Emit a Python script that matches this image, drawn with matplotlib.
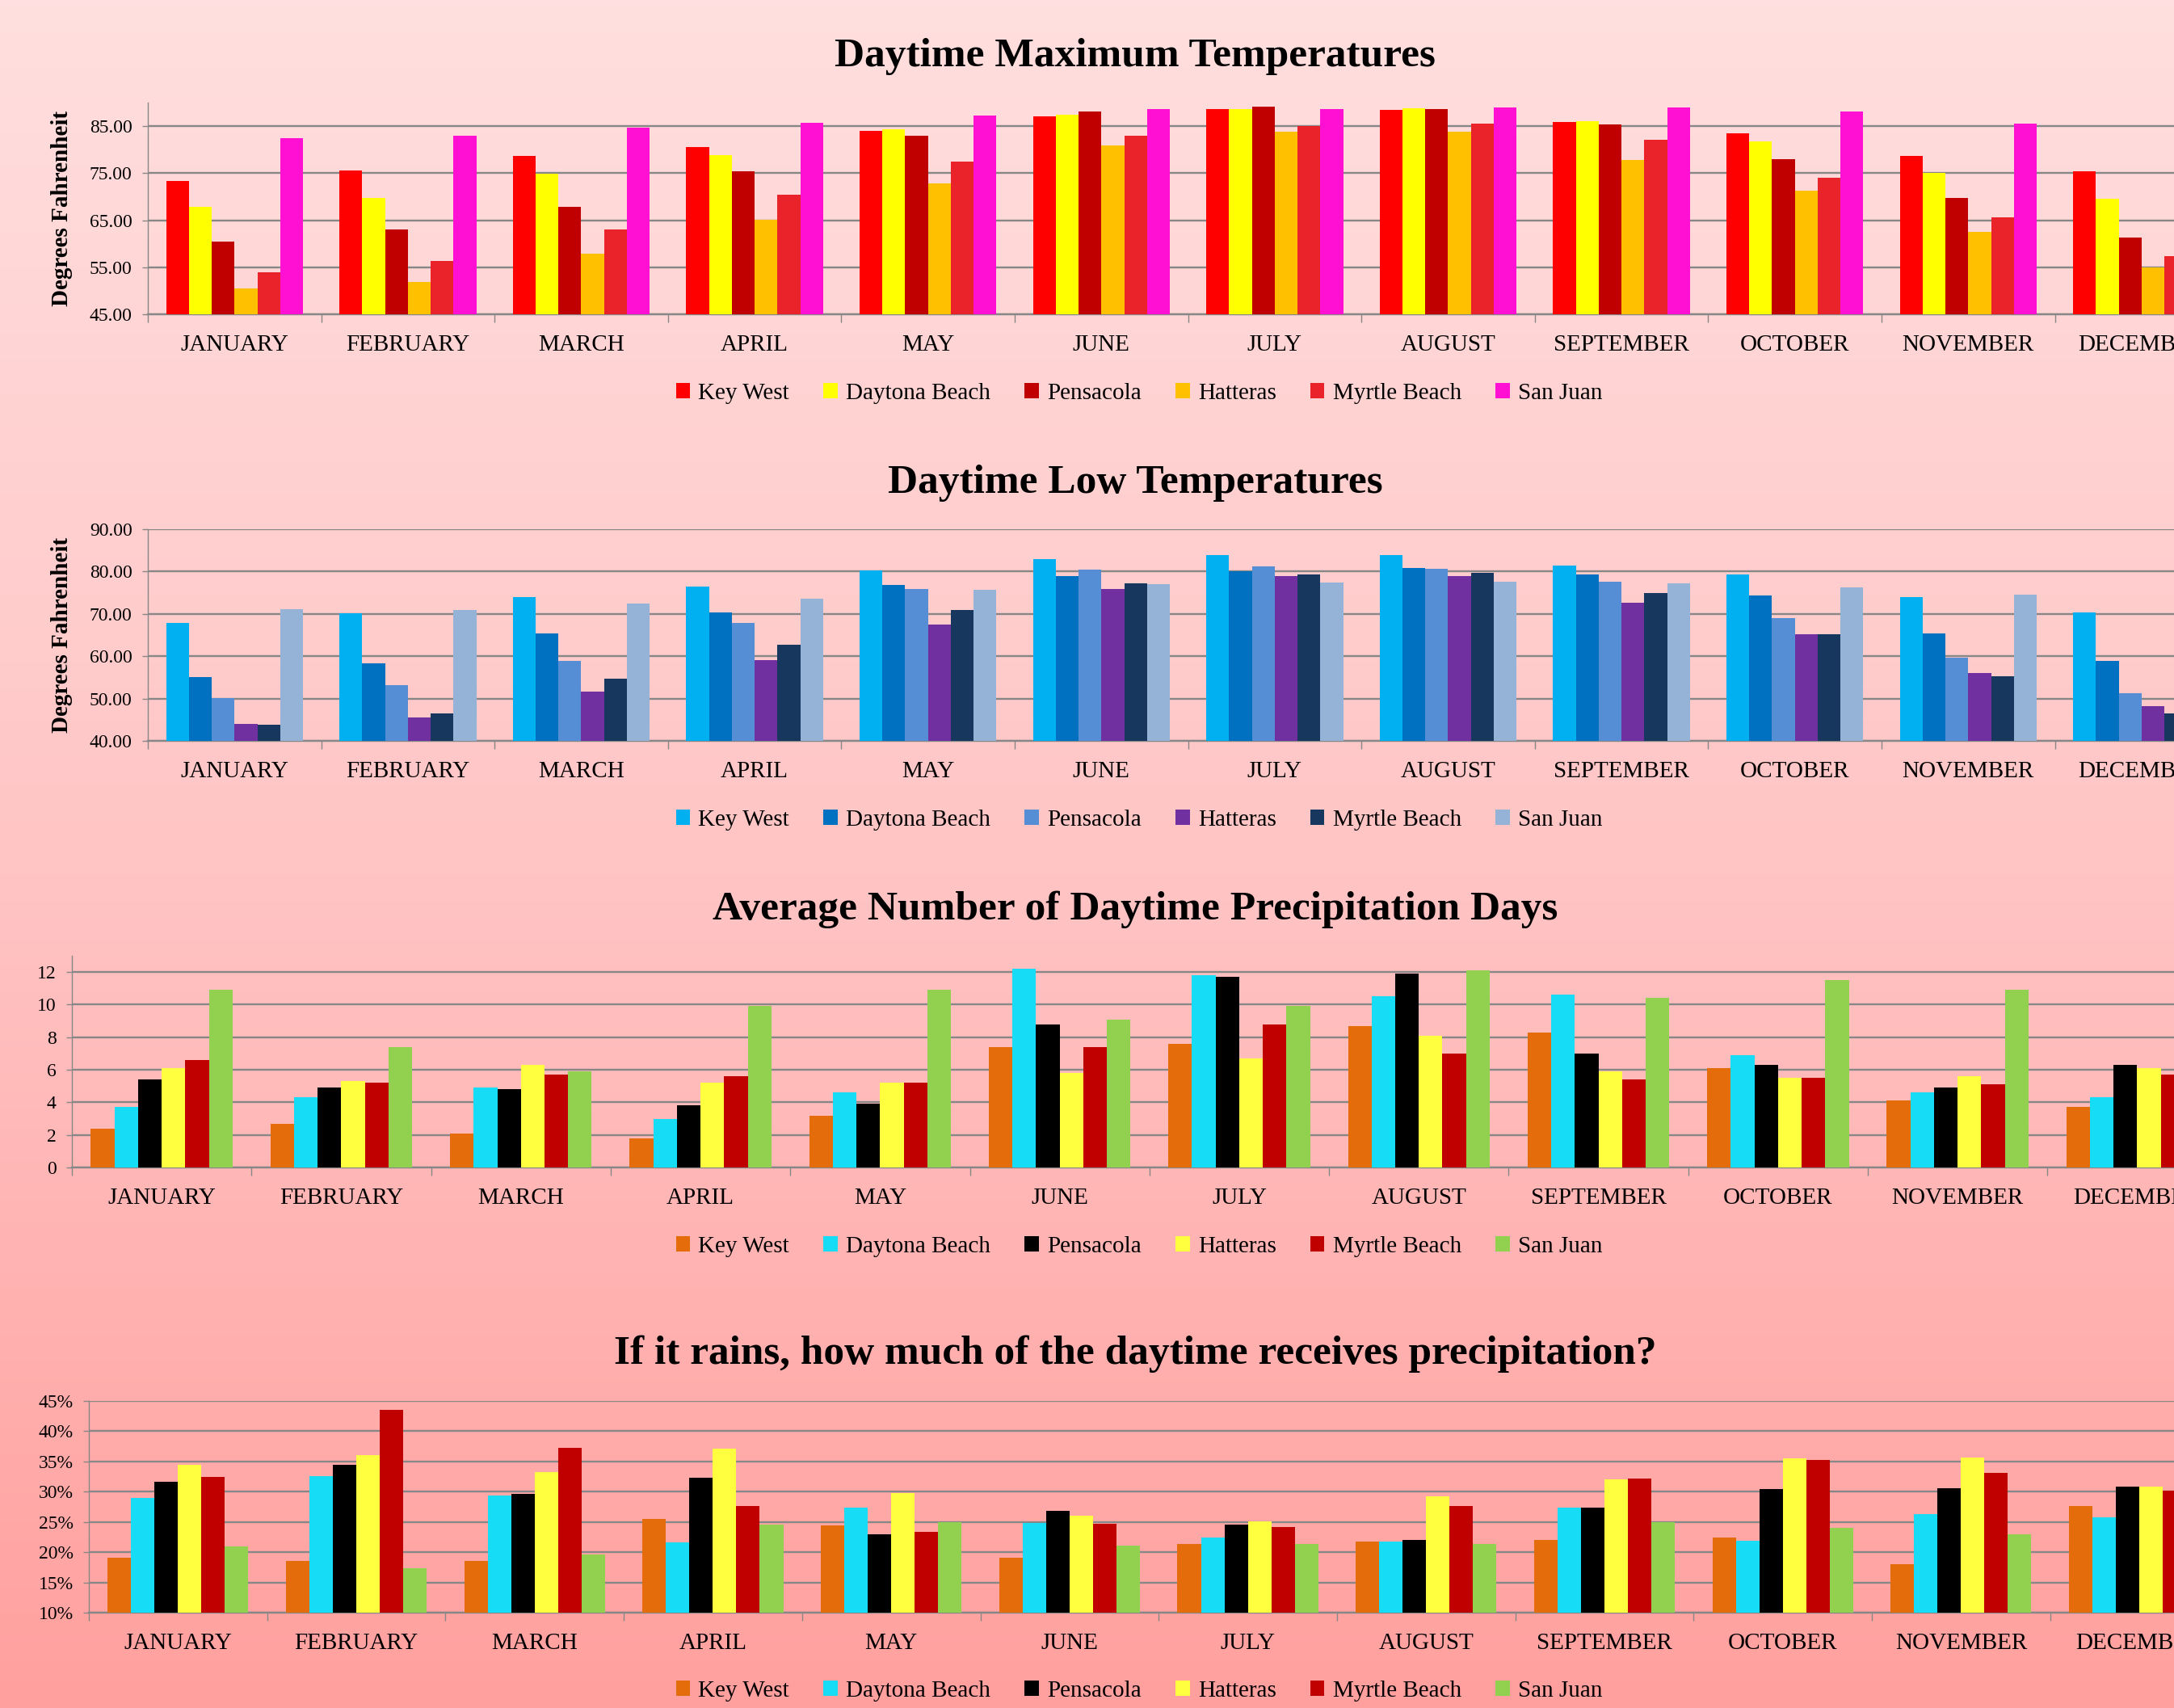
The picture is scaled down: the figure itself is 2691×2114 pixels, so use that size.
import matplotlib
matplotlib.use('Agg')
import matplotlib.pyplot as plt
import numpy as np
from matplotlib.colors import LinearSegmentedColormap
from matplotlib.ticker import FixedLocator, FuncFormatter

plt.rcParams['font.family'] = ['Liberation Serif', 'DejaVu Serif']

# ---------------- DATA ----------------
months = ["JANUARY", "FEBRUARY", "MARCH", "APRIL", "MAY", "JUNE", "JULY",
          "AUGUST", "SEPTEMBER", "OCTOBER", "NOVEMBER", "DECEMBER"]
cities = ["Key West", "Daytona Beach", "Pensacola", "Hatteras", "Myrtle Beach", "San Juan"]

# Daytime maximum temperatures (F)
max_key_west = [73.4, 75.5, 78.6, 80.6, 84.0, 87.1, 88.7, 88.4, 85.8, 83.4, 78.6, 75.4]
max_daytona = [67.9, 69.7, 74.8, 78.8, 84.4, 87.4, 88.6, 88.8, 86.0, 81.7, 75.0, 69.6]
max_pensacola = [60.4, 63.0, 67.8, 75.4, 83.0, 88.1, 89.1, 88.7, 85.4, 78.0, 69.7, 61.4]
max_hatteras = [50.5, 51.9, 57.9, 65.1, 72.8, 80.9, 83.8, 83.9, 77.8, 71.3, 62.6, 55.0]
max_myrtle = [54.0, 56.3, 63.1, 70.4, 77.4, 83.0, 85.1, 85.5, 82.1, 74.1, 65.6, 57.3]
max_san_juan = [82.4, 82.9, 84.7, 85.7, 87.3, 88.7, 88.7, 88.9, 89.0, 88.1, 85.6, 83.5]

# Daytime low temperatures (F)
low_key_west = [67.9, 70.2, 74.0, 76.4, 80.2, 83.0, 83.9, 83.8, 81.4, 79.3, 74.0, 70.3]
low_daytona = [55.0, 58.4, 65.3, 70.3, 76.9, 78.9, 80.0, 80.8, 79.4, 74.4, 65.3, 58.8]
low_pensacola = [50.2, 53.2, 58.9, 67.9, 75.8, 80.4, 81.2, 80.6, 77.6, 69.1, 59.7, 51.3]
low_hatteras = [44.1, 45.5, 51.6, 59.0, 67.5, 75.9, 78.9, 79.0, 72.7, 65.2, 56.0, 48.3]
low_myrtle = [43.8, 46.5, 54.6, 62.8, 70.9, 77.3, 79.3, 79.6, 74.9, 65.1, 55.3, 46.4]
low_san_juan = [71.2, 71.0, 72.4, 73.5, 75.6, 77.0, 77.4, 77.6, 77.2, 76.3, 74.5, 72.0]

# Average number of daytime precipitation days
pd_key_west = [2.4, 2.7, 2.1, 1.8, 3.2, 7.4, 7.6, 8.7, 8.3, 6.1, 4.1, 3.7]
pd_daytona = [3.7, 4.3, 4.9, 3.0, 4.6, 12.2, 11.8, 10.5, 10.6, 6.9, 4.6, 4.3]
pd_pensacola = [5.4, 4.9, 4.8, 3.8, 3.9, 8.8, 11.7, 11.9, 7.0, 6.3, 4.9, 6.3]
pd_hatteras = [6.1, 5.3, 6.3, 5.2, 5.2, 5.8, 6.7, 8.1, 5.9, 5.5, 5.6, 6.1]
pd_myrtle = [6.6, 5.2, 5.7, 5.6, 5.2, 7.4, 8.8, 7.0, 5.4, 5.5, 5.1, 5.7]
pd_san_juan = [10.9, 7.4, 5.9, 9.9, 10.9, 9.1, 9.9, 12.1, 10.4, 11.5, 10.9, 10.0]

# Share of daytime receiving precipitation if it rains (%)
pc_key_west = [19.1, 18.5, 18.5, 25.5, 24.4, 19.1, 21.3, 21.8, 22.0, 22.4, 18.0, 27.6]
pc_daytona = [29.0, 32.6, 29.4, 21.6, 27.4, 24.8, 22.4, 21.7, 27.3, 21.9, 26.3, 25.8]
pc_pensacola = [31.6, 34.5, 29.6, 32.3, 23.0, 26.8, 24.6, 22.0, 27.3, 30.5, 30.6, 30.8]
pc_hatteras = [34.4, 36.0, 33.3, 37.1, 29.8, 26.0, 25.1, 29.3, 32.0, 35.5, 35.7, 30.8]
pc_myrtle = [32.4, 43.5, 37.2, 27.7, 23.3, 24.7, 24.2, 27.7, 32.2, 35.3, 33.1, 30.2]
pc_san_juan = [21.0, 17.4, 19.6, 24.5, 24.9, 21.1, 21.3, 21.4, 24.9, 24.0, 23.0, 22.0]

titles = ["Daytime Maximum Temperatures", "Daytime Low Temperatures",
          "Average Number of Daytime Precipitation Days",
          "If it rains, how much of the daytime receives precipitation?"]
ylabel_text = "Degrees Fahrenheit"

# ---------------- STYLE ----------------
W, H = 2691, 2114
DPI = 100
fig = plt.figure(figsize=(W / DPI, H / DPI), dpi=DPI)

bg = fig.add_axes([0, 0, 1, 1], zorder=-10)
grad = np.linspace(0, 1, 512).reshape(-1, 1)
cmap = LinearSegmentedColormap.from_list('bg', ['#FFDFDF', '#FFC5C5', '#FFA09E'])
bg.imshow(grad, aspect='auto', cmap=cmap, extent=[0, 1, 0, 1], origin='upper')
bg.axis('off')

colors_max = ['#FF0000', '#FFFF00', '#C00000', '#FFC000', '#EA222A', '#FF10D2']
colors_low = ['#00B0F0', '#0070C0', '#558ED5', '#7030A0', '#17375E', '#95B3D7']
colors_prec = ['#E46C0A', '#17DCF5', '#000000', '#FFFF40', '#C00000', '#92D050']

GRID = '#878787'

panels = [
    dict(series=[max_key_west, max_daytona, max_pensacola, max_hatteras, max_myrtle, max_san_juan],
         colors=colors_max, left=183, cat_w=214.6, top=127, bottom=389, ylim=(45, 90),
         yticks=[45, 55, 65, 75, 85], fmt=lambda v, p: f"{v:.2f}",
         title_y=82, legend_y=487, ylabel=True),
    dict(series=[low_key_west, low_daytona, low_pensacola, low_hatteras, low_myrtle, low_san_juan],
         colors=colors_low, left=183, cat_w=214.6, top=655, bottom=917, ylim=(40, 90),
         yticks=[40, 50, 60, 70, 80, 90], fmt=lambda v, p: f"{v:.2f}",
         title_y=610, legend_y=1015, ylabel=True),
    dict(series=[pd_key_west, pd_daytona, pd_pensacola, pd_hatteras, pd_myrtle, pd_san_juan],
         colors=colors_prec, left=89, cat_w=222.3, top=1183, bottom=1445, ylim=(0, 13),
         yticks=[0, 2, 4, 6, 8, 10, 12], fmt=lambda v, p: f"{v:.0f}",
         title_y=1138, legend_y=1543, ylabel=False),
    dict(series=[pc_key_west, pc_daytona, pc_pensacola, pc_hatteras, pc_myrtle, pc_san_juan],
         colors=colors_prec, left=110, cat_w=220.7, top=1734, bottom=1996, ylim=(10, 45),
         yticks=[10, 15, 20, 25, 30, 35, 40, 45], fmt=lambda v, p: f"{v:.0f}%",
         title_y=1688, legend_y=2093, ylabel=False),
]

bw = 0.1315
x = np.arange(len(months))

for k, pnl in enumerate(panels):
    left = pnl['left']
    right = left + 12 * pnl['cat_w']
    ax = fig.add_axes([left / W, 1 - pnl['bottom'] / H, (right - left) / W,
                       (pnl['bottom'] - pnl['top']) / H])
    ax.set_facecolor('none')
    handles = []
    for i, (vals, col) in enumerate(zip(pnl['series'], pnl['colors'])):
        b = ax.bar(x + (i - 2.5) * bw, vals, bw, bottom=0, color=col,
                   zorder=3, label=cities[i], linewidth=0)
        handles.append(b)
    ax.set_xlim(-0.5, 11.5)
    ax.set_ylim(*pnl['ylim'])
    ax.yaxis.set_major_locator(FixedLocator(pnl['yticks']))
    ax.yaxis.set_major_formatter(FuncFormatter(pnl['fmt']))
    ax.grid(axis='y', color=GRID, lw=1.7, zorder=0)
    ax.set_axisbelow(True)
    for s in ['top', 'right']:
        ax.spines[s].set_visible(False)
    ax.spines['left'].set_color(GRID)
    ax.spines['left'].set_linewidth(1.0)
    ax.spines['bottom'].set_color(GRID)
    ax.spines['bottom'].set_linewidth(1.7)
    ax.set_xticks(x)
    ax.set_xticklabels(months)
    ax.set_xticks(np.arange(-0.5, 12, 1), minor=True)
    ax.tick_params(axis='x', which='major', length=0, pad=18, labelsize=21)
    ax.tick_params(axis='x', which='minor', length=7, width=1.0, color=GRID, direction='out')
    ax.tick_params(axis='y', length=5, width=1.0, color=GRID, pad=9, labelsize=17)

    fig.text(1405 / W, 1 - pnl['title_y'] / H, titles[k], ha='center', va='baseline',
             fontsize=37, fontweight='bold')
    fig.legend(handles, cities, loc='center', bbox_to_anchor=(1410 / W, 1 - pnl['legend_y'] / H),
               ncol=6, frameon=False, fontsize=21, handlelength=0.6, handleheight=0.6,
               handletextpad=0.35, columnspacing=1.45, borderpad=0)
    if pnl['ylabel']:
        yc = (pnl['top'] + pnl['bottom']) / 2
        fig.text(76 / W, 1 - yc / H, ylabel_text, rotation=90, ha='center', va='center',
                 fontsize=21, fontweight='bold')

fig.savefig('out.png', dpi=DPI)
